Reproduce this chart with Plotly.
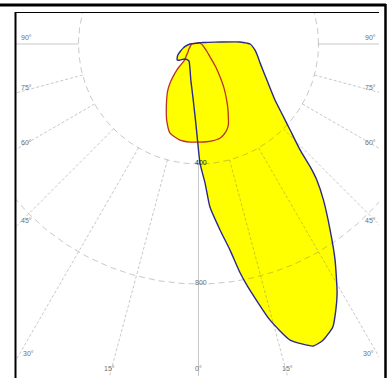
import numpy as np
import plotly.graph_objects as go

# Luminous intensity distribution (cd), gamma angle in degrees.
# Negative gamma = opposite half-plane.
GAMMA_C0 = [-180, -150, -120, -100, -90, -80, -75, -68, -62, -56, -53, -50, -46, -42,
            -36, -29, -23, -18, -12, -8, -5.4, -2.3, -0.6, 0.7, 2.7, 4, 6.6, 8.7, 10.3,
            11.5, 14.5, 17.2, 20.8, 22.8, 25.4, 27.3, 29.1, 32.3, 35.3, 38.7, 41.0,
            42.3, 43.8, 46.8, 49.8, 53.8, 60.7, 66.1, 72.8, 77.7, 84, 90, 91, 92.8,
            95, 100, 110, 130, 180]
CD_C0 = [4, 4, 5, 12, 28, 45, 53, 65, 78, 86, 89, 84, 74, 67,
         64, 65, 76, 91, 123, 155, 187, 253, 320, 397, 464, 544, 624, 695, 775,
         826, 950, 1033, 1077, 1071, 1044, 998, 950, 852, 759, 666, 601,
         553, 489, 419, 367, 316, 266, 239, 215, 203, 189, 172, 162, 138,
         75, 32, 14, 7, 4]

GAMMA_C90 = [-180, -120, -90, -75, -60, -52.7, -46, -41, -40.3, -39.8, -38, -36, -33,
             -29.6, -26, -22.7, -17.7, -10.9, -5, 0, 4.8, 8, 12.8, 15.5, 18.2, 20.5,
             22.3, 24.5, 26.7, 30, 33.3, 37, 42, 50, 60, 75, 90, 120, 180]
CD_C90 = [4, 6, 23, 28, 38, 44, 57, 70, 91, 113, 138, 162, 190,
          215, 245, 275, 312, 326, 328, 327, 327, 326, 322, 314, 302, 285,
          262, 236, 209, 170, 130, 95, 57, 35, 22, 14, 10, 5, 4]

GRID_CD = [400, 800]
GRID_LABELS = ["400", "800"]
ANGLE_TICKS = [0, 15, 30, 45, 60, 75, 90]

# Pixel geometry of the drawing
W, H = 391, 378
PX_L, PX_R, PX_T, PX_B = 16, 379, 12, 376
CX, CY = 198.5, 44.0          # pole position in pixels
S = 0.3                       # pixels per candela

x_range = [(PX_L - CX) / S, (PX_R - CX) / S]
y_range = [-(PX_B - CY) / S, (CY - PX_T) / S]


def to_xy(gamma, cd):
    g = np.radians(np.asarray(gamma, dtype=float))
    r = np.asarray(cd, dtype=float)
    return r * np.sin(g), -r * np.cos(g)


YELLOW = "#FFFF00"
BLUE = "#2A2A8C"
RED = "#B8322A"
GRID = "rgba(110,110,110,0.38)"

fig = go.Figure()

x0, y0 = to_xy(GAMMA_C0, CD_C0)
x90, y90 = to_xy(GAMMA_C90, CD_C90)

# filled areas first
for xx, yy in [(x0, y0), (x90, y90)]:
    fig.add_trace(go.Scatter(x=xx, y=yy, mode="lines", fill="toself",
                             fillcolor=YELLOW, line=dict(width=0, shape="spline", smoothing=0.5),
                             hoverinfo="skip", showlegend=False))

# circular grid
t = np.linspace(0, 2 * np.pi, 361)
for r in GRID_CD:
    fig.add_trace(go.Scatter(x=r * np.cos(t), y=r * np.sin(t), mode="lines",
                             line=dict(color=GRID, width=1, dash="6px,4px"),
                             hoverinfo="skip", showlegend=False))

# radial grid, starting at the inner circle
for a in ANGLE_TICKS:
    for sgn in ([1] if a == 0 else [-1, 1]):
        gx, gy = to_xy([sgn * a, sgn * a], [GRID_CD[0], 3000])
        dash = "solid" if a in (0, 90) else "3px,2px"
        fig.add_trace(go.Scatter(x=gx, y=gy, mode="lines",
                                 line=dict(color=GRID, width=1, dash=dash),
                                 hoverinfo="skip", showlegend=False))

# outlines on top
fig.add_trace(go.Scatter(x=x90, y=y90, mode="lines",
                         line=dict(color=RED, width=1.3, shape="spline", smoothing=0.5),
                         hoverinfo="skip", showlegend=False))
fig.add_trace(go.Scatter(x=x0, y=y0, mode="lines",
                         line=dict(color=BLUE, width=1.4, shape="spline", smoothing=0.5),
                         hoverinfo="skip", showlegend=False))

annotations = []
# angle labels (offsets from the pole in pixels)
label_offsets = {0: (0, 324), 15: (89, 324), 30: (170, 309), 45: (172, 176),
                 60: (172, 98), 75: (172, 43), 90: (172, -7)}
for a in ANGLE_TICKS:
    dx, dy = label_offsets[a]
    for sgn in ([1] if a == 0 else [-1, 1]):
        annotations.append(dict(x=sgn * dx / S, y=-dy / S, text=f"{a}°",
                                showarrow=False, xanchor="center", yanchor="middle",
                                font=dict(family="Liberation Sans", size=7, color="#707070")))

for r, lab, col in zip(GRID_CD, GRID_LABELS, ["#222222", "#707070"]):
    annotations.append(dict(x=2 / S, y=-r, text=lab, showarrow=False,
                            xanchor="center", yanchor="middle", yshift=2,
                            font=dict(family="Liberation Sans", size=7, color=col)))


def px_to_paper(px, py):
    return (px - PX_L) / (PX_R - PX_L), (PX_B - py) / (PX_B - PX_T)


shapes = []
# outer frame pieces
a0 = px_to_paper(0, 5)
a1 = px_to_paper(386, 5)
shapes.append(dict(type="line", xref="paper", yref="paper", x0=a0[0], y0=a0[1],
                   x1=a1[0], y1=a1[1], line=dict(color="black", width=3)))
b0 = px_to_paper(385.5, 4)
b1 = px_to_paper(385.5, 378)
shapes.append(dict(type="line", xref="paper", yref="paper", x0=b0[0], y0=b0[1],
                   x1=b1[0], y1=b1[1], line=dict(color="black", width=2.5)))
# inner frame (left and top)
c0 = px_to_paper(15.5, 12)
c1 = px_to_paper(15.5, 378)
shapes.append(dict(type="line", xref="paper", yref="paper", x0=c0[0], y0=c0[1],
                   x1=c1[0], y1=c1[1], line=dict(color="black", width=2)))
d0 = px_to_paper(15, 12.5)
d1 = px_to_paper(379, 12.5)
shapes.append(dict(type="line", xref="paper", yref="paper", x0=d0[0], y0=d0[1],
                   x1=d1[0], y1=d1[1], line=dict(color="black", width=1.2)))

fig.update_layout(
    width=W, height=H,
    margin=dict(l=PX_L, r=W - PX_R, t=PX_T, b=H - PX_B),
    paper_bgcolor="white", plot_bgcolor="white",
    xaxis=dict(range=x_range, visible=False, fixedrange=True),
    yaxis=dict(range=y_range, visible=False, fixedrange=True),
    annotations=annotations, shapes=shapes,
    showlegend=False,
)

fig.write_html("out.html", config={"displayModeBar": False})
